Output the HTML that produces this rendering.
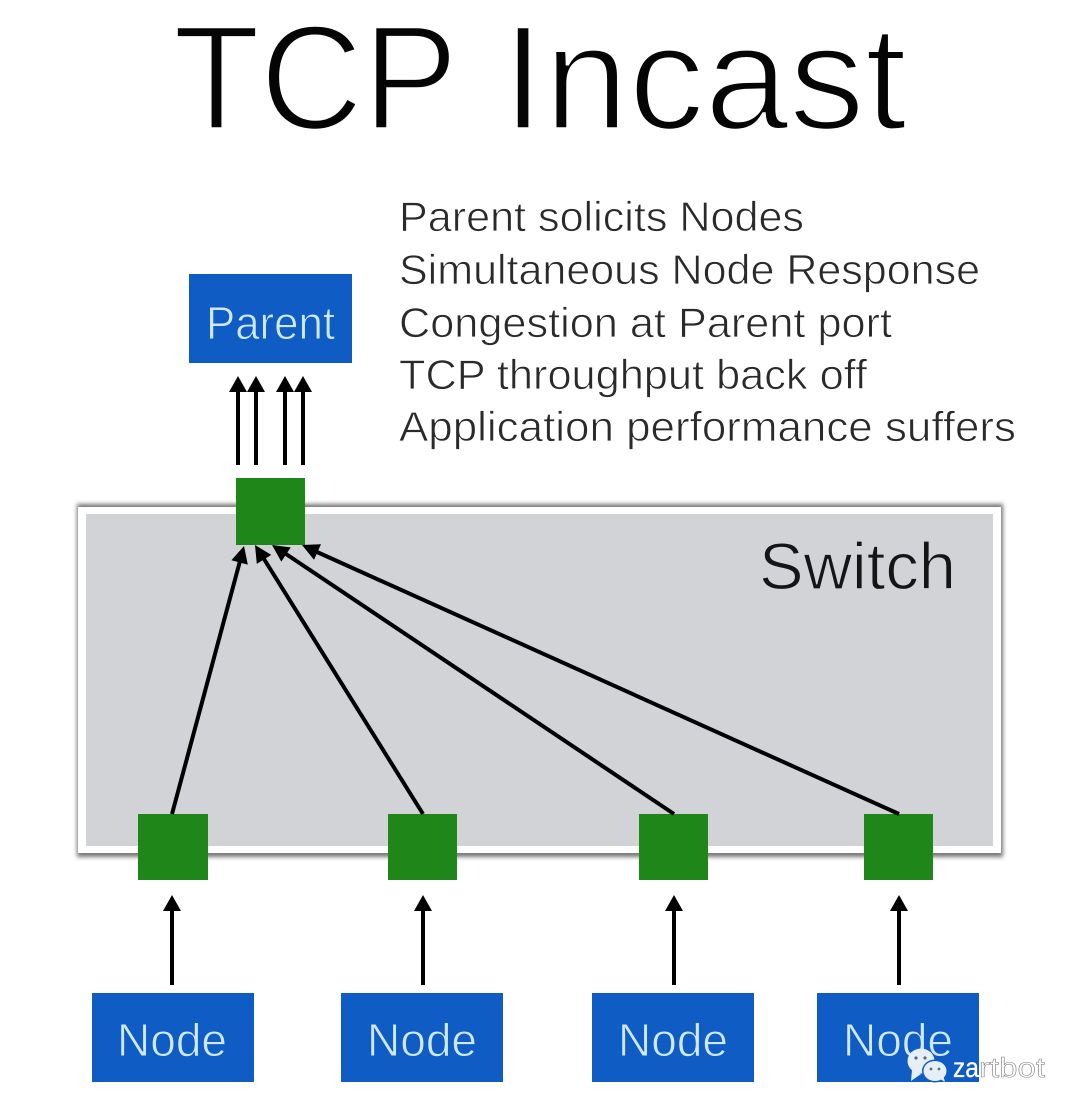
<!DOCTYPE html>
<html><head><meta charset="utf-8"><style>
html,body{margin:0;padding:0;background:#fff}
svg{display:block}
text{font-family:"Liberation Sans",sans-serif}
</style></head><body>
<svg width="1080" height="1114" viewBox="0 0 1080 1114" xmlns="http://www.w3.org/2000/svg">
<defs>
<filter id="b" x="-5%" y="-5%" width="110%" height="110%"><feGaussianBlur stdDeviation="2"/></filter>
</defs>
<rect width="1080" height="1114" fill="#fff"/>
<g font-size="149" fill="#050505" stroke="#fff" stroke-width="3.5">
<text x="173" y="129" textLength="285" lengthAdjust="spacingAndGlyphs">TCP</text>
<text x="502" y="129" textLength="405" lengthAdjust="spacingAndGlyphs">Incast</text>
</g>
<g font-size="42" fill="#2a2a2a" stroke="#fff" stroke-width="0.8">
<text x="399" y="231" textLength="405" lengthAdjust="spacingAndGlyphs">Parent solicits Nodes</text>
<text x="399" y="284" textLength="581" lengthAdjust="spacingAndGlyphs">Simultaneous Node Response</text>
<text x="399" y="337" textLength="493" lengthAdjust="spacingAndGlyphs">Congestion at Parent port</text>
<text x="399" y="389" textLength="468" lengthAdjust="spacingAndGlyphs">TCP throughput back off</text>
<text x="399" y="441" textLength="617" lengthAdjust="spacingAndGlyphs">Application performance suffers</text>
</g>
<rect x="77" y="504" width="926" height="353" fill="#777" filter="url(#b)"/>
<rect x="78" y="507" width="923" height="346" fill="#fff"/>
<rect x="86" y="514" width="907" height="332" fill="#d2d3d7"/>
<text x="759" y="589" font-size="66" textLength="197" lengthAdjust="spacingAndGlyphs" fill="#151515" stroke="#d2d3d7" stroke-width="1.2">Switch</text>
<g fill="#0f5cc4">
<rect x="189" y="274" width="163" height="89"/>
<rect x="92" y="993" width="162" height="89"/>
<rect x="341" y="993" width="162" height="89"/>
<rect x="592" y="993" width="162" height="89"/>
<rect x="817" y="993" width="162" height="89"/>
</g>
<g font-size="46" fill="#cfe8fb" stroke="#0f5cc4" stroke-width="0.9">
<text x="206" y="339" textLength="129" lengthAdjust="spacingAndGlyphs">Parent</text>
<text x="117" y="1056" textLength="110" lengthAdjust="spacingAndGlyphs">Node</text>
<text x="367" y="1056" textLength="110" lengthAdjust="spacingAndGlyphs">Node</text>
<text x="618" y="1056" textLength="110" lengthAdjust="spacingAndGlyphs">Node</text>
<text x="843" y="1056" textLength="110" lengthAdjust="spacingAndGlyphs">Node</text>
</g>
<g fill="#1f861a">
<rect x="236" y="478" width="69" height="67"/>
<rect x="138" y="814" width="70" height="66"/>
<rect x="388" y="814" width="69" height="66"/>
<rect x="639" y="814" width="69" height="66"/>
<rect x="864" y="814" width="69" height="66"/>
</g>
<g stroke="#000" stroke-width="4" fill="none">
<path d="M238 465V390M256 465V390M285 465V390M303 465V390"/>
<path d="M172 985V908M423 985V908M674 985V908M899 985V908"/>
<path d="M172 814L240 561M423 814L264 559M674 814L286 554M899 814L317 552"/>
</g>
<g fill="#000">
<polygon points="238,376 229,392 247,392"/>
<polygon points="256,376 247,392 265,392"/>
<polygon points="285,376 276,392 294,392"/>
<polygon points="303,376 294,392 312,392"/>
<polygon points="172,895 163,911 181,911"/>
<polygon points="423,895 414,911 432,911"/>
<polygon points="674,895 665,911 683,911"/>
<polygon points="899,895 890,911 908,911"/>
<polygon points="244,546 247.8,564.6 231.4,560.2"/>
<polygon points="255,545 271.2,554.9 256.8,563.9"/>
<polygon points="272,545 290.7,547.4 281.3,561.6"/>
<polygon points="302,545 321,544.2 314,559.8"/>
</g>
<g>
<ellipse cx="921" cy="1061" rx="13.5" ry="12.5" fill="#e6eef6"/>
<polygon points="912,1070 911,1081 921,1074" fill="#e6eef6"/>
<ellipse cx="935" cy="1071" rx="13" ry="11.5" fill="#0f5cc4"/>
<ellipse cx="935" cy="1071" rx="11.5" ry="10" fill="#e6eef6"/>
<polygon points="940,1079 945,1082 943,1075" fill="#e6eef6"/>
<circle cx="916" cy="1058" r="1.6" fill="#5a6a7a"/><circle cx="925" cy="1058" r="1.6" fill="#5a6a7a"/>
<circle cx="931" cy="1069" r="1.4" fill="#5a6a7a"/><circle cx="939" cy="1069" r="1.4" fill="#5a6a7a"/>
</g>
<text x="953" y="1077" font-size="28" fill="#fff" stroke="#fff" stroke-width="0.3" textLength="26" lengthAdjust="spacingAndGlyphs">za</text>
<text x="979" y="1077" font-size="28" textLength="66" lengthAdjust="spacingAndGlyphs" fill="#fff" stroke="#888" stroke-width="0.6">rtbot</text>
</svg>
</body></html>
